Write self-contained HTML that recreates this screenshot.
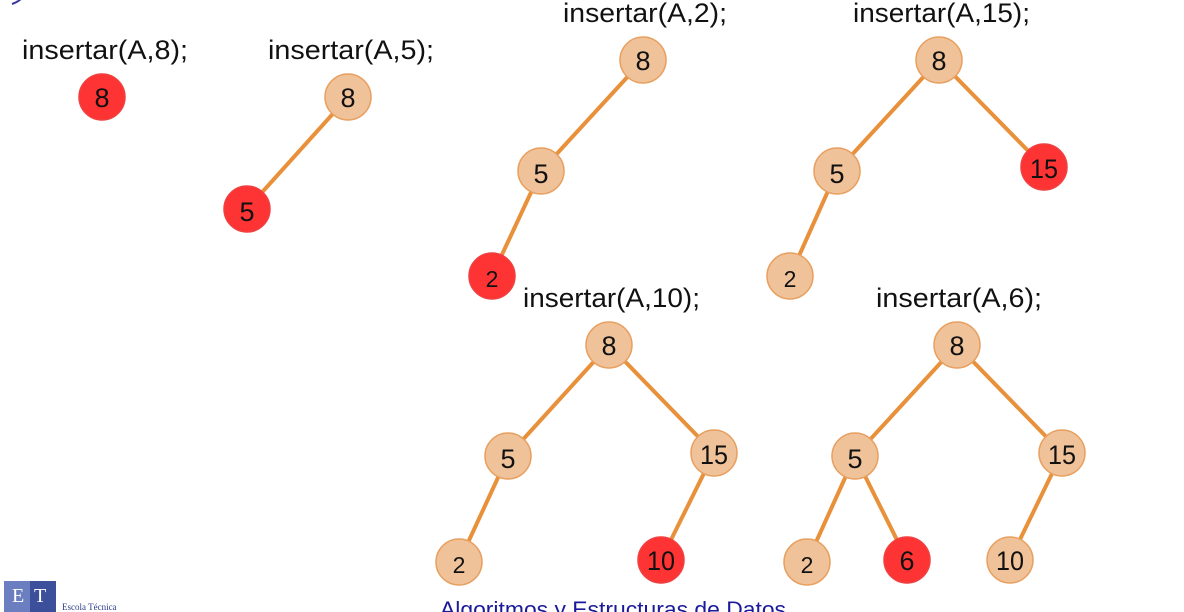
<!DOCTYPE html>
<html><head><meta charset="utf-8"><style>
html,body{margin:0;padding:0;background:#fff;}
body{width:1184px;height:612px;overflow:hidden;position:relative;}
svg{position:absolute;left:0;top:0;}
</style></head><body>
<svg width="1184" height="612" viewBox="0 0 1184 612" xmlns="http://www.w3.org/2000/svg">
<path d="M12 4 Q18 2 22 -2" stroke="#3a3aa0" stroke-width="2" fill="none"/>
<g font-family="Liberation Sans, sans-serif" font-size="27" fill="#111">
<text x="22" y="59" textLength="166" lengthAdjust="spacingAndGlyphs">insertar(A,8);</text>
<text x="268" y="59" textLength="166" lengthAdjust="spacingAndGlyphs">insertar(A,5);</text>
<text x="563" y="22" textLength="164" lengthAdjust="spacingAndGlyphs">insertar(A,2);</text>
<text x="853" y="22" textLength="177" lengthAdjust="spacingAndGlyphs">insertar(A,15);</text>
<text x="523" y="307" textLength="177" lengthAdjust="spacingAndGlyphs">insertar(A,10);</text>
<text x="876" y="307" textLength="166" lengthAdjust="spacingAndGlyphs">insertar(A,6);</text>
</g>
<g stroke="#e8903a" stroke-width="4">
<line x1="348" y1="97" x2="247" y2="209"/>
<line x1="643" y1="60" x2="541" y2="171"/><line x1="541" y1="171" x2="492" y2="276"/>
<line x1="939" y1="60" x2="837" y2="171"/><line x1="837" y1="171" x2="790" y2="276"/><line x1="939" y1="60" x2="1044" y2="167"/>
<line x1="609" y1="345" x2="508" y2="456"/><line x1="508" y1="456" x2="459" y2="562"/><line x1="609" y1="345" x2="714" y2="453"/><line x1="714" y1="453" x2="661" y2="560"/>
<line x1="957" y1="345" x2="855" y2="456"/><line x1="855" y1="456" x2="807" y2="562"/><line x1="855" y1="456" x2="907" y2="560"/><line x1="957" y1="345" x2="1062" y2="453"/><line x1="1062" y1="453" x2="1010" y2="560"/>
</g>
<g stroke-width="1.5">
<g fill="#f0c29a" stroke="#e8a060">
<circle cx="348" cy="97" r="23"/>
<circle cx="643" cy="60" r="23"/><circle cx="541" cy="171" r="23"/>
<circle cx="939" cy="60" r="23"/><circle cx="837" cy="171" r="23"/><circle cx="790" cy="276" r="23"/>
<circle cx="609" cy="345" r="23"/><circle cx="508" cy="456" r="23"/><circle cx="714" cy="453" r="23"/><circle cx="459" cy="562" r="23"/>
<circle cx="957" cy="345" r="23"/><circle cx="855" cy="456" r="23"/><circle cx="1062" cy="453" r="23"/><circle cx="807" cy="562" r="23"/><circle cx="1010" cy="560" r="23"/>
</g>
<g fill="#fe3333" stroke="#f04040">
<circle cx="102" cy="97" r="23"/><circle cx="247" cy="209" r="23"/><circle cx="492" cy="276" r="23"/><circle cx="1044" cy="167" r="23"/><circle cx="661" cy="560" r="23"/><circle cx="907" cy="560" r="23"/>
</g>
</g>
<g font-family="Liberation Sans, sans-serif" font-size="27" fill="#111" text-anchor="middle">
<text x="102" y="107">8</text><text x="348" y="107">8</text><text x="247" y="221">5</text>
<text x="643" y="70">8</text><text x="541" y="183">5</text><text x="492" y="287" font-size="23">2</text>
<text x="939" y="70">8</text><text x="837" y="183">5</text><text x="1044" y="178" textLength="28" lengthAdjust="spacingAndGlyphs">15</text><text x="790" y="287" font-size="23">2</text>
<text x="609" y="355">8</text><text x="508" y="468">5</text><text x="714" y="464" textLength="28" lengthAdjust="spacingAndGlyphs">15</text><text x="459" y="573" font-size="23">2</text><text x="661" y="570" textLength="28" lengthAdjust="spacingAndGlyphs">10</text>
<text x="957" y="355">8</text><text x="855" y="468">5</text><text x="1062" y="464" textLength="28" lengthAdjust="spacingAndGlyphs">15</text><text x="807" y="573" font-size="23">2</text><text x="907" y="570">6</text><text x="1010" y="570" textLength="28" lengthAdjust="spacingAndGlyphs">10</text>
</g>
<rect x="4" y="581" width="52" height="31" fill="#3b4f9a"/>
<rect x="4" y="581" width="26" height="31" fill="#6b7fc0"/>
<text x="12" y="602" font-family="Liberation Serif, serif" font-size="20" fill="#fff">E</text>
<text x="34" y="602" font-family="Liberation Serif, serif" font-size="20" fill="#fff">T</text>
<text x="62" y="610" font-family="Liberation Serif, serif" font-size="9" fill="#2a3a8a">Escola Técnica</text>
<text x="440" y="617" font-family="Liberation Sans, sans-serif" font-size="22" fill="#1a1a9a" textLength="346" lengthAdjust="spacingAndGlyphs">Algoritmos y Estructuras de Datos</text>
</svg>
</body></html>
